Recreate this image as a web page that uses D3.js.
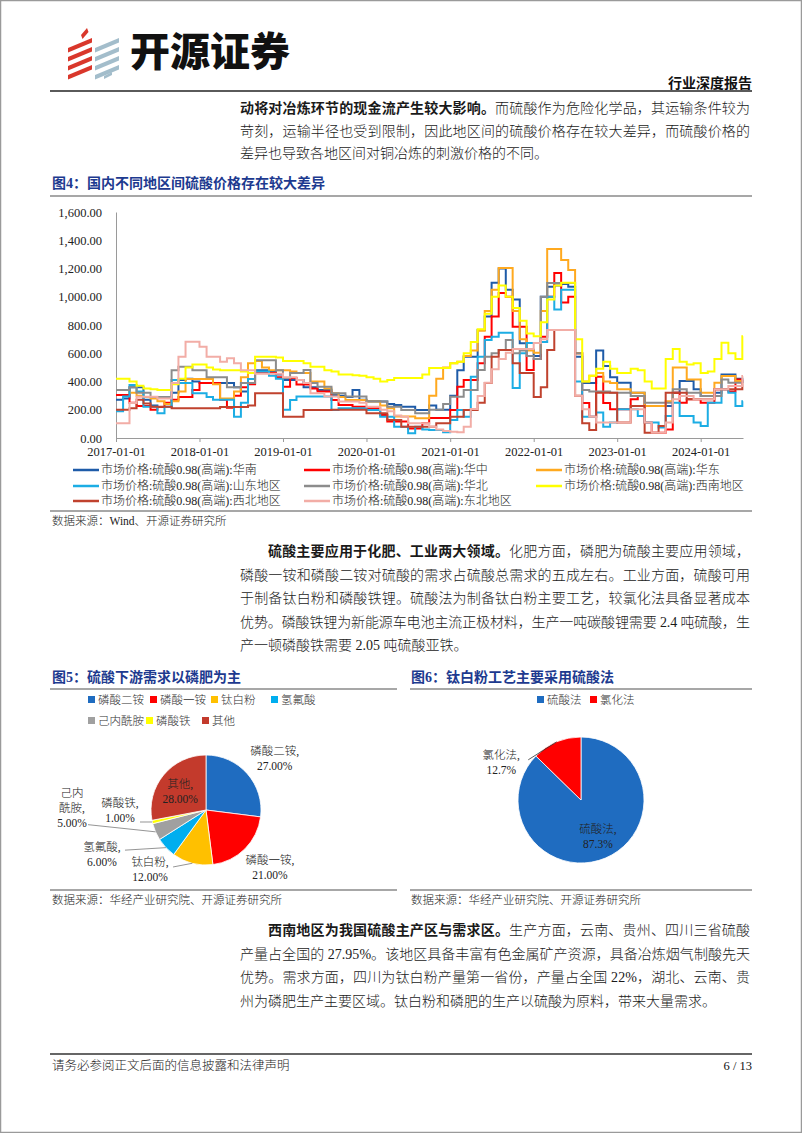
<!DOCTYPE html>
<html>
<head>
<meta charset="utf-8">
<script src="https://cdn.jsdelivr.net/npm/d3@7"></script>
<style>
body { margin: 0; background: #fff; }
svg { display: block; }
</style>
</head>
<body>
<svg id="page" width="802" height="1133"></svg>
<script>
// ---- data: fig4, monthly price (yuan/t), 2017-01 .. 2024-07
const regions = ['华南', '华中', '华东', '山东地区', '华北', '西南地区', '西北地区', '东北地区']
const regionColors = ['#1E5BA8', '#FF0000', '#FFA91F', '#1CADE4', '#8C8C8C', '#FFFF00', '#C0422E', '#F2ADA6']

const south = [
  270, 280, 360, 360, 270, 230, 220, 220, 320, 410, 420, 400,
  390, 390, 390, 390, 390, 360, 330, 460, 480, 480, 470, 450,
  410, 410, 410, 360, 360, 340, 340, 305, 300, 290, 340, 270,
  260, 260, 258, 240, 234, 222, 222, 198, 198, 230, 200, 200,
  300, 480, 576, 576, 765, 860, 1100, 1200, 1050, 980, 670, 625,
  580, 1000, 1070, 1080, 1090, 1070, 576, 389, 389, 620, 510, 430,
  392, 392, 321, 321, 227, 227, 227, 227, 321, 404, 404, 345,
  297, 297, 320, 450, 450, 420, 390]
const central = [
  304, 304, 250, 227, 227, 200, 220, 250, 270, 290, 290, 340,
  390, 390, 390, 270, 215, 300, 360, 380, 460, 460, 460, 430,
  363, 425, 378, 378, 350, 330, 330, 269, 234, 234, 222, 222,
  210, 210, 163, 116, 116, 116, 68, 68, 104, 142, 142, 142,
  198, 363, 410, 410, 530, 717, 860, 1027, 1000, 788, 788, 481,
  560, 717, 1000, 1168, 960, 1000, 600, 248, 151, 434, 248, 203,
  203, 203, 274, 297, 110, 38, 38, 61, 321, 250, 274, 274,
  250, 250, 345, 345, 330, 415, 415]
const east = [
  340, 340, 320, 300, 290, 280, 260, 240, 260, 330, 418, 418,
  418, 418, 380, 280, 280, 330, 430, 530, 545, 500, 480, 480,
  480, 470, 460, 460, 400, 400, 350, 316, 290, 269, 269, 269,
  258, 258, 230, 210, 152, 152, 152, 140, 140, 300, 420, 500,
  530, 540, 580, 620, 760, 900, 1050, 1203, 1203, 900, 700, 620,
  604, 900, 1338, 1338, 1260, 1190, 600, 400, 440, 460, 400, 389,
  345, 345, 321, 321, 227, 227, 227, 260, 500, 500, 415, 415,
  321, 321, 392, 439, 439, 404, 404]
const shandong = [
  190, 293, 375, 330, 222, 222, 175, 222, 411, 390, 390, 316,
  316, 290, 270, 270, 270, 150, 250, 418, 470, 470, 440, 420,
  200, 269, 293, 293, 293, 293, 293, 198, 210, 210, 210, 210,
  198, 198, 150, 150, 80, 80, 33, 80, 60, 57, 57, 40,
  127, 198, 151, 434, 576, 694, 717, 746, 746, 354, 600, 672,
  672, 680, 1000, 910, 1050, 1050, 400, 151, 151, 180, 80, 110,
  203, 203, 203, 156, 110, 110, 75, 156, 250, 156, 156, 110,
  85, 250, 250, 345, 320, 227, 260]
const north = [
  340, 340, 360, 320, 320, 290, 290, 290, 480, 505, 505, 480,
  480, 430, 430, 430, 360, 360, 390, 390, 550, 550, 550, 480,
  425, 460, 460, 481, 390, 363, 363, 316, 316, 293, 293, 293,
  258, 258, 258, 222, 222, 198, 198, 175, 175, 200, 200, 240,
  292, 292, 340, 340, 481, 576, 600, 623, 694, 600, 620, 580,
  560, 1000, 1097, 1097, 1097, 1097, 600, 340, 330, 330, 330, 321,
  321, 321, 297, 297, 250, 250, 250, 250, 345, 345, 321, 321,
  297, 297, 297, 415, 392, 392, 392]
const southwest = [
  420, 420, 400, 370, 350, 345, 340, 340, 380, 420, 500, 520,
  520, 500, 485, 480, 480, 480, 470, 460, 575, 575, 575, 570,
  545, 545, 545, 530, 505, 505, 480, 470, 450, 450, 445, 440,
  430, 420, 400, 410, 425, 425, 425, 425, 450, 495, 495, 495,
  530, 540, 600, 680, 770, 880, 1000, 1080, 1000, 920, 830, 740,
  720, 820, 980, 1080, 1100, 1100, 700, 400, 440, 490, 540, 490,
  460, 460, 490, 480, 400, 350, 350, 560, 630, 540, 520, 530,
  460, 470, 560, 675, 600, 560, 720]
const northwest = [
  200, 200, 210, 270, 245, 222, 222, 222, 210, 210, 210, 210,
  210, 210, 210, 220, 220, 220, 220, 230, 316, 316, 316, 316,
  150, 150, 150, 198, 198, 198, 198, 200, 200, 200, 200, 200,
  175, 175, 175, 127, 127, 80, 80, 80, 80, 80, 104, 104,
  151, 151, 198, 198, 250, 389, 576, 623, 623, 530, 460, 460,
  290, 360, 623, 765, 765, 765, 300, 104, 57, 321, 321, 321,
  110, 110, 227, 227, 38, 38, 85, 321, 321, 321, 274, 274,
  274, 274, 345, 345, 345, 345, 415]
const northeast = [
  104, 104, 248, 292, 292, 292, 280, 280, 389, 576, 682, 682,
  646, 576, 576, 540, 565, 530, 480, 480, 455, 455, 455, 455,
  430, 430, 410, 390, 316, 316, 293, 293, 258, 258, 258, 250,
  222, 222, 200, 190, 160, 150, 104, 104, 104, 80, 60, 50,
  45, 40, 80, 205, 297, 392, 487, 559, 604, 630, 630, 630,
  672, 700, 765, 765, 765, 765, 300, 203, 150, 110, 110, 110,
  110, 110, 203, 203, 110, 38, 38, 110, 274, 297, 297, 274,
  274, 274, 345, 345, 368, 368, 439]
const seriesValues = [south, central, east, shandong, north, southwest, northwest, northeast]
const yTicks = [0, 200, 400, 600, 800, 1000, 1200, 1400, 1600]
const xTickYears = [2017, 2018, 2019, 2020, 2021, 2022, 2023, 2024]

// ---- data: fig5 and fig6 pies
const demandNames = ['磷酸二铵', '磷酸一铵', '钛白粉', '氢氟酸', '己内酰胺', '磷酸铁', '其他']
const demandShares = [27, 21, 12, 6, 5, 1, 28]
const demandColors = ['#1F6CC0', '#FF0000', '#FFC000', '#00AEEF', '#A0A0A0', '#FFFF00', '#C33A2C']
const processNames = ['硫酸法', '氯化法']
const processShares = [87.3, 12.7]
const processColors = ['#1F6CC0', '#FF0000']

const serif = "'Liberation Serif','Noto Sans CJK SC',serif"
const svg = d3.select('#page')

// page frame
svg.append('rect').attr('x', 0.5).attr('y', 0.5).attr('width', 801).attr('height', 1132)
  .attr('fill', 'none').attr('stroke', '#9a9a9a').attr('stroke-width', 1.5)

// ---- header / logo
const logo = svg.append('g').attr('transform', 'translate(66,27)')
const stripeRows = [0, 1, 2, 3]
stripeRows.forEach(i => {
  const y0 = 11 + i * 9
  logo.append('path').attr('d', `M2,${y0 + 10} L26,${y0} L26,${y0 + 4.5} L2,${y0 + 14.5} Z`).attr('fill', '#D9372B')
  logo.append('path').attr('d', `M29,${y0 + 10} L53,${y0} L53,${y0 + 4.5} L29,${y0 + 14.5} Z`).attr('fill', '#A3BDCB')
})
logo.append('path').attr('d', 'M15,8 L21,1 L22.5,5 L16.5,12 Z').attr('fill', '#D9372B')
logo.append('path').attr('d', 'M38,49 L46,45 L46,48 L38,52 Z').attr('fill', '#A3BDCB')

svg.append('text').attr('x', 130).attr('y', 66)
  .attr('font-family', "'Noto Sans CJK SC',sans-serif").attr('font-weight', 900)
  .attr('font-size', 40).attr('fill', '#111').text('开源证券')
svg.append('text').attr('x', 752).attr('y', 88).attr('text-anchor', 'end')
  .attr('font-family', serif).attr('font-weight', 700).attr('font-size', 14).attr('fill', '#111')
  .text('行业深度报告')
svg.append('line').attr('x1', 50).attr('x2', 752).attr('y1', 91).attr('y2', 91)
  .attr('stroke', '#5a5a5a').attr('stroke-width', 2)

function textLine(x, y, segs, width, size = 14) {
  const t = svg.append('text').attr('x', x).attr('y', y)
    .attr('font-family', serif).attr('font-size', size).attr('fill', '#1a1a1a')
  segs.forEach(s => t.append('tspan').attr('font-weight', s[1] ? 700 : 300).text(s[0]))
  if (width) t.attr('textLength', width).attr('lengthAdjust', 'spacing')
  return t
}

function rule(x1, x2, y, color = '#8a8a8a', w = 1.3) {
  svg.append('line').attr('x1', x1).attr('x2', x2).attr('y1', y).attr('y2', y)
    .attr('stroke', color).attr('stroke-width', w)
}

function figTitle(x, y, s) {
  svg.append('text').attr('x', x).attr('y', y).attr('font-family', serif)
    .attr('font-weight', 700).attr('font-size', 14).attr('fill', '#1D3A8F').text(s)
}

function source(x, y, s) {
  svg.append('text').attr('x', x).attr('y', y).attr('font-family', serif)
    .attr('font-size', 11.5).attr('font-weight', 300).attr('fill', '#222').text(s)
}

// paragraph 1
textLine(240, 113, [['动将对冶炼环节的现金流产生较大影响。', 1], ['而硫酸作为危险化学品，其运输条件较为', 0]], 510)
textLine(240, 136, [['苛刻，运输半径也受到限制，因此地区间的硫酸价格存在较大差异，而硫酸价格的', 0]], 510)
textLine(240, 158, [['差异也导致各地区间对铜冶炼的刺激价格的不同。', 0]])

// ---- fig 4: line chart
figTitle(52, 188, '图4：国内不同地区间硫酸价格存在较大差异')
rule(50, 752, 196)

const months = d3.timeMonth.range(new Date(2017, 0, 1), new Date(2024, 7, 1))
const xEnd = new Date(2024, 6, 4)
const x = d3.scaleTime().domain([new Date(2017, 0, 1), xEnd]).range([116, 743])
const y = d3.scaleLinear().domain([0, 1600]).range([438, 212])

const chart = svg.append('g')
const yAxis = chart.append('g').attr('transform', 'translate(116,0)')
  .call(d3.axisLeft(y).tickValues(yTicks).tickFormat(d3.format(',.2f')).tickSize(0).tickPadding(14))
yAxis.select('.domain').attr('stroke', '#9a9a9a')
yAxis.selectAll('text').attr('font-family', serif).attr('font-size', 12.5).attr('fill', '#222')

const xAxis = chart.append('g').attr('transform', 'translate(0,438)')
  .call(d3.axisBottom(x).tickValues(xTickYears.map(yr => new Date(yr, 0, 1)))
    .tickFormat(d3.timeFormat('%Y-%m-%d')).tickSize(4).tickSizeOuter(0).tickPadding(5))
xAxis.select('.domain').attr('stroke', '#9a9a9a')
xAxis.selectAll('.tick line').attr('stroke', '#9a9a9a')
xAxis.selectAll('text').attr('font-family', serif).attr('font-size', 12.5).attr('fill', '#222')

const priceLine = d3.line().x(d => x(d.date)).y(d => y(d.value)).curve(d3.curveStepAfter)
seriesValues.forEach((vals, i) => {
  const pts = vals.map((v, j) => ({ date: months[j], value: v }))
  pts.push({ date: xEnd, value: vals[vals.length - 1] })
  chart.append('path').attr('d', priceLine(pts)).attr('fill', 'none')
    .attr('stroke', regionColors[i]).attr('stroke-width', 2).attr('stroke-linejoin', 'miter')
})

// legend
const legCols = [73, 304, 536]
const legRows = [470, 486, 501]
regions.forEach((r, i) => {
  const lx = legCols[i % 3], ly = legRows[Math.floor(i / 3)]
  svg.append('line').attr('x1', lx).attr('x2', lx + 26).attr('y1', ly).attr('y2', ly)
    .attr('stroke', regionColors[i]).attr('stroke-width', 2.5)
  svg.append('text').attr('x', lx + 28).attr('y', ly + 4).attr('font-family', serif)
    .attr('font-size', 12).attr('font-weight', 300).attr('fill', '#222').text(`市场价格:硫酸0.98(高端):${r}`)
})
rule(50, 752, 511)
source(52, 525, '数据来源：Wind、开源证券研究所')

// paragraph 2
textLine(268, 556, [['硫酸主要应用于化肥、工业两大领域。', 1], ['化肥方面，磷肥为硫酸主要应用领域，', 0]], 482)
textLine(240, 580, [['磷酸一铵和磷酸二铵对硫酸的需求占硫酸总需求的五成左右。工业方面，硫酸可用', 0]], 510)
textLine(240, 603, [['于制备钛白粉和磷酸铁锂。硫酸法为制备钛白粉主要工艺，较氯化法具备显著成本', 0]], 510)
textLine(240, 627, [['优势。磷酸铁锂为新能源车电池主流正极材料，生产一吨碳酸锂需要 2.4 吨硫酸，生', 0]], 510)
textLine(240, 650, [['产一顿磷酸铁需要 2.05 吨硫酸亚铁。', 0]])

// ---- fig 5
figTitle(52, 682, '图5：硫酸下游需求以磷肥为主')
rule(50, 397, 689)
figTitle(411, 682, '图6：钛白粉工艺主要采用硫酸法')
rule(410, 752, 689)

function squareLegend(items, colors, xs, ys) {
  items.forEach((n, i) => {
    svg.append('rect').attr('x', xs[i]).attr('y', ys[i] - 4).attr('width', 7).attr('height', 7).attr('fill', colors[i])
    svg.append('text').attr('x', xs[i] + 10).attr('y', ys[i] + 4).attr('font-family', serif)
      .attr('font-size', 11.5).attr('font-weight', 300).attr('fill', '#333').text(n)
  })
}
squareLegend(demandNames, demandColors, [88, 150, 211, 271, 88, 146, 202], [700, 700, 700, 700, 721, 721, 721])

const pieGen = d3.pie().sort(null).value(d => d)
function drawPie(cx, cy, r, vals, colors) {
  const arcs = pieGen(vals)
  const arc = d3.arc().innerRadius(0).outerRadius(r)
  const g = svg.append('g').attr('transform', `translate(${cx},${cy})`)
  g.selectAll('path').data(arcs).join('path').attr('d', arc)
    .attr('fill', (d, i) => colors[i]).attr('stroke', '#fff').attr('stroke-width', 0.8)
  return arcs
}
function polar(cx, cy, a, d) { return [cx + d * Math.sin(a), cy - d * Math.cos(a)] }
function labelBlock(px, py, lines) {
  const t = svg.append('text').attr('font-family', serif).attr('font-size', 11.5)
    .attr('font-weight', 300).attr('fill', '#222').attr('text-anchor', 'middle')
  lines.forEach((s, k) => t.append('tspan').attr('x', px).attr('y', py + k * 15 - (lines.length - 1) * 7.5 + 4).text(s))
}

const c5 = [206, 810], r5 = 55
const arcs5 = drawPie(c5[0], c5[1], r5, demandShares, demandColors)
// label placement: [angle deg (clockwise from 12), distance, leader end dx, dy or null]
const place5 = [[53, 86, null], [132, 86, null], [223, 82, [23, -3]], [247, 113, [23, -4]],
  [271, 134, [16, 17]], [270, 86, [20, 12]], [306, 32, null]]
arcs5.forEach((a, i) => {
  const [ang, dist, lead] = place5[i]
  const [px, py] = polar(c5[0], c5[1], ang * Math.PI / 180, dist)
  const pct = d3.format('.2f')(a.data) + '%'
  let lines = [demandNames[i] + ',', pct]
  if (demandNames[i] === '己内酰胺') lines = ['己内', '酰胺,', pct]
  labelBlock(px, py, lines)
  if (lead) {
    const mid = (a.startAngle + a.endAngle) / 2
    const [ex, ey] = polar(c5[0], c5[1], mid, r5)
    svg.append('line').attr('x1', px + lead[0]).attr('y1', py + lead[1]).attr('x2', ex).attr('y2', ey)
      .attr('stroke', '#7a7a7a').attr('stroke-width', 0.8)
  }
})

rule(50, 397, 890)
source(52, 904, '数据来源：华经产业研究院、开源证券研究所')

// ---- fig 6
squareLegend(processNames, processColors, [537, 590], [700, 700])
const c6 = [581, 800], r6 = 63
const arcs6 = drawPie(c6[0], c6[1], r6, processShares, processColors)
const place6 = [[155, 40, null], [295, 88, [27, -3]]]
arcs6.forEach((a, i) => {
  const [ang, dist, lead] = place6[i]
  const [px, py] = polar(c6[0], c6[1], ang * Math.PI / 180, dist)
  labelBlock(px, py, [processNames[i] + ',', d3.format('.1f')(a.data) + '%'])
  if (lead) {
    const mid = (a.startAngle + a.endAngle) / 2
    const [ex, ey] = polar(c6[0], c6[1], mid, r6)
    svg.append('line').attr('x1', px + lead[0]).attr('y1', py + lead[1]).attr('x2', ex).attr('y2', ey)
      .attr('stroke', '#333').attr('stroke-width', 0.8)
  }
})
rule(410, 752, 890)
source(411, 904, '数据来源：华经产业研究院、开源证券研究所')

// paragraph 3
textLine(268, 935, [['西南地区为我国硫酸主产区与需求区。', 1], ['生产方面，云南、贵州、四川三省硫酸', 0]], 482)
textLine(240, 959, [['产量占全国的 27.95%。该地区具备丰富有色金属矿产资源，具备冶炼烟气制酸先天', 0]], 510)
textLine(240, 982, [['优势。需求方面，四川为钛白粉产量第一省份，产量占全国 22%，湖北、云南、贵', 0]], 510)
textLine(240, 1006, [['州为磷肥生产主要区域。钛白粉和磷肥的生产以硫酸为原料，带来大量需求。', 0]])

// footer
rule(50, 752, 1054, '#333', 1.5)
textLine(52, 1070, [['请务必参阅正文后面的信息披露和法律声明', 0]], null, 12.5)
svg.append('text').attr('x', 752).attr('y', 1070).attr('text-anchor', 'end')
  .attr('font-family', serif).attr('font-size', 12.5).attr('fill', '#111').text('6 / 13')
</script>
</body>
</html>
